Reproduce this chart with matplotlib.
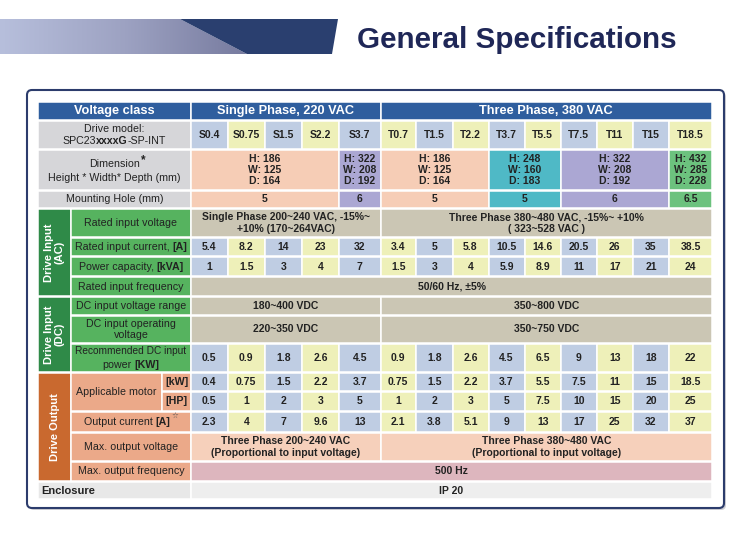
import matplotlib.pyplot as plt
from matplotlib.patches import Rectangle, Polygon, FancyBboxPatch
from matplotlib.colors import LinearSegmentedColormap
import numpy as np

plt.rcParams['font.family'] = ['Liberation Sans', 'DejaVu Sans']

# ---- table data ----
single_models = ['S0.4', 'S0.75', 'S1.5', 'S2.2', 'S3.7']
three_models = ['T0.7', 'T1.5', 'T2.2', 'T3.7', 'T5.5', 'T7.5', 'T11', 'T15', 'T18.5']
models = single_models + three_models

rated_current = ['5.4', '8.2', '14', '23', '32', '3.4', '5', '5.8', '10.5', '14.6', '20.5', '26', '35', '38.5']
power_kva = ['1', '1.5', '3', '4', '7', '1.5', '3', '4', '5.9', '8.9', '11', '17', '21', '24']
dc_power = ['0.5', '0.9', '1.8', '2.6', '4.5', '0.9', '1.8', '2.6', '4.5', '6.5', '9', '13', '18', '22']
motor_kw = ['0.4', '0.75', '1.5', '2.2', '3.7', '0.75', '1.5', '2.2', '3.7', '5.5', '7.5', '11', '15', '18.5']
motor_hp = ['0.5', '1', '2', '3', '5', '1', '2', '3', '5', '7.5', '10', '15', '20', '25']
output_current = ['2.3', '4', '7', '9.6', '13', '2.1', '3.8', '5.1', '9', '13', '17', '25', '32', '37']

# frame sizes: (first col, last col, dimension text, mounting hole, colour)
frames = [
    (0, 3, 'H: 186\nW: 125\nD: 164', '5', '#f6cdb6'),
    (4, 4, 'H: 322\nW: 208\nD: 192', '6', '#aba7d3'),
    (5, 7, 'H: 186\nW: 125\nD: 164', '5', '#f6cdb6'),
    (8, 9, 'H: 248\nW: 160\nD: 183', '5', '#4fb9c6'),
    (10, 12, 'H: 322\nW: 208\nD: 192', '6', '#aba7d3'),
    (13, 13, 'H: 432\nW: 285\nD: 228', '6.5', '#6cc27e'),
]

rated_voltage = ['Single Phase 200~240 VAC, -15%~\n+10% (170~264VAC)',
                 'Three Phase 380~480 VAC, -15%~ +10%\n( 323~528 VAC )']
dc_range = ['180~400 VDC', '350~800 VDC']
dc_operating = ['220~350 VDC', '350~750 VDC']
max_out_voltage = ['Three Phase 200~240 VAC\n(Proportional to input voltage)',
                   'Three Phase 380~480 VAC\n(Proportional to input voltage)']
input_freq = '50/60 Hz, \u00b15%'
max_out_freq = '500 Hz'
enclosure = 'IP 20'

# ---- layout (pixels) ----
col_edges = [191, 227.5, 265, 302, 339, 380.5, 416, 452.5, 488.5, 524.5, 561, 596.5, 633, 669, 712]
rows = {
    'header': (102, 120), 'model': (121, 149), 'dim': (150, 190), 'mount': (191, 208),
    'rv': (209, 237), 'ri': (238, 256), 'pc': (257, 276), 'rf': (277, 296),
    'dcr': (297, 315), 'dco': (316, 343), 'dcp': (344, 372),
    'kw': (373, 391), 'hp': (392, 411), 'oc': (412, 432), 'mv': (433, 461),
    'mf': (462, 481), 'enc': (482, 499),
}
X0, XG, XS, XE = 38, 71, 162, 712
LS, DS = 7.7, 7.5   # label / data font sizes

blue = '#bfcde3'
yellow = '#eef0b9'
gray = '#d6d6d9'
hdr = '#2f5e9e'
ac_dark = '#2f8a48'
ac_lab = '#56b35f'
khaki = '#cbc6b4'
out_dark = '#c9692f'
out_lab = '#eba989'
txt = '#222222'

fig = plt.figure(figsize=(7.5, 5.33), dpi=100)
ax = fig.add_axes([0, 0, 1, 1])
renderer = fig.canvas.get_renderer()


def cell(x0, x1, r, color):
    y0, y1 = rows[r] if isinstance(r, str) else r
    ax.add_patch(Rectangle((x0, y0), x1 - x0, y1 - y0, fc=color, ec='white', lw=1.1, zorder=2))
    return (x0 + x1) / 2, (y0 + y1) / 2


def label(x, y, s, size=LS, weight='normal', color=txt, **kw):
    ax.text(x, y, s, fontsize=size, fontweight=weight, color=color,
            ha=kw.pop('ha', 'center'), va='center', zorder=3, **kw)


def rich(x, y, parts, size=LS, gap=2.3):
    # mixed normal / bold pieces, centred on x
    ts = [ax.text(0, y, s, fontsize=size, fontweight=w, color=txt, ha='left', va='center', zorder=3)
          for s, w in parts]
    ws = [t.get_window_extent(renderer).width for t in ts]
    cur = x - (sum(ws) + gap * (len(ws) - 1)) / 2
    for t, w in zip(ts, ws):
        t.set_x(cur)
        cur += w + gap
    return cur - gap


# ---- title banner ----
light = Polygon([(0, 19), (180, 19), (247, 54), (0, 54)], closed=True, fc='none', ec='none')
ax.add_patch(light)
grad = np.linspace(0, 1, 256).reshape(1, -1)
cm = LinearSegmentedColormap.from_list('bar', ['#b7bfdc', '#9da2c2', '#767a9e'])
im = ax.imshow(grad, cmap=cm, extent=[0, 250, 54, 19], aspect='auto', zorder=1)
im.set_clip_path(light)
ax.add_patch(Polygon([(180, 19), (338, 19), (332, 54), (247, 54)], closed=True,
                     fc='#2a3f6f', ec='none', zorder=1))
ax.text(357, 40, 'General Specifications', fontsize=21.3, fontweight='bold', color='#1f2757',
        ha='left', va='center')
ax.set_xlim(0, 750)
ax.set_ylim(533, 0)
ax.axis('off')

# ---- outer frame ----
ax.add_patch(FancyBboxPatch((29, 92), 697, 418, boxstyle='round,pad=0,rounding_size=5',
                            fc='#cfcfd4', ec='none', zorder=0))
ax.add_patch(FancyBboxPatch((27, 90), 697, 418, boxstyle='round,pad=0,rounding_size=5',
                            fc='white', ec='#2c3c6c', lw=1.5, zorder=1))

# ---- header row ----
x, y = cell(X0, col_edges[0], 'header', hdr)
label(x, y, 'Voltage class', 9.2, 'bold', 'white')
x, y = cell(col_edges[0], col_edges[5], 'header', hdr)
label(x, y, 'Single Phase, 220 VAC', 9.2, 'bold', 'white')
x, y = cell(col_edges[5], XE, 'header', hdr)
label(x, y, 'Three Phase, 380 VAC', 9.2, 'bold', 'white')

# ---- left labels, top part ----
x, y = cell(X0, col_edges[0], 'model', gray)
label(x, y - 6, 'Drive model:')
rich(x, y + 6, [('SPC23', 'normal'), ('xxxxG', 'bold'), ('-SP-INT', 'normal')], gap=0)
x, y = cell(X0, col_edges[0], 'dim', gray)
end = rich(x, y - 6, [('Dimension', 'normal')])
label(end + 3.5, y - 10, '*', 8.5, 'bold')
label(x, y + 8, 'Height * Width* Depth (mm)')
x, y = cell(X0, col_edges[0], 'mount', gray)
label(x, y, 'Mounting Hole (mm)')

# ---- group columns ----
for r0, r1, s, c in [('rv', 'rf', 'Drive Input\n(AC)', ac_dark), ('dcr', 'dcp', 'Drive Input\n(DC)', ac_dark),
                     ('kw', 'mf', 'Drive Output', out_dark)]:
    x, y = cell(X0, XG, (rows[r0][0], rows[r1][1]), c)
    label(x, y, s, 8, 'bold', 'white', rotation=90, linespacing=1.0)

x, y = cell(XG, col_edges[0], 'rv', ac_lab)
label(x, y, 'Rated input voltage')
x, y = cell(XG, col_edges[0], 'ri', ac_lab)
rich(x, y, [('Rated input current,', 'normal'), ('[A]', 'bold')])
x, y = cell(XG, col_edges[0], 'pc', ac_lab)
rich(x, y, [('Power capacity,', 'normal'), ('[kVA]', 'bold')])
x, y = cell(XG, col_edges[0], 'rf', ac_lab)
label(x, y, 'Rated input frequency')
x, y = cell(XG, col_edges[0], 'dcr', ac_lab)
label(x, y, 'DC input voltage range')
x, y = cell(XG, col_edges[0], 'dco', ac_lab)
label(x, y, 'DC input operating\nvoltage', linespacing=1.2)
x, y = cell(XG, col_edges[0], 'dcp', ac_lab)
label(x, y - 6.5, 'Recommended DC input', 7.3)
rich(x, y + 6.5, [('power', 'normal'), ('[KW]', 'bold')])

x, y = cell(XG, XS, (rows['kw'][0], rows['hp'][1]), out_lab)
label(x, y, 'Applicable motor')
x, y = cell(XS, col_edges[0], 'kw', out_lab)
label(x, y, '[kW]', weight='bold')
x, y = cell(XS, col_edges[0], 'hp', out_lab)
label(x, y, '[HP]', weight='bold')
x, y = cell(XG, col_edges[0], 'oc', out_lab)
end = rich(x - 4, y, [('Output current', 'normal'), ('[A]', 'bold')])
label(end + 5, y - 5, '\u2606', 5.5, color='#555555')
x, y = cell(XG, col_edges[0], 'mv', out_lab)
label(x, y, 'Max. output voltage')
x, y = cell(XG, col_edges[0], 'mf', out_lab)
label(x, y, 'Max. output frequency')

x, y = cell(X0, col_edges[0], 'enc', '#e8e8e8')
label(41, y, 'Enclosure', 8, 'bold', ha='left')

# ---- per-model rows ----
for r, vals in [('model', models), ('ri', rated_current), ('pc', power_kva), ('dcp', dc_power),
                ('kw', motor_kw), ('hp', motor_hp), ('oc', output_current)]:
    for i, v in enumerate(vals):
        x, y = cell(col_edges[i], col_edges[i + 1], r, blue if i % 2 == 0 else yellow)
        label(x, y, v, DS, 'bold')

# ---- merged cells ----
for a, b, dim, hole, c in frames:
    x, y = cell(col_edges[a], col_edges[b + 1], 'dim', c)
    label(x, y, dim, DS, 'bold', linespacing=1.1)
    x, y = cell(col_edges[a], col_edges[b + 1], 'mount', c)
    label(x, y, hole, DS, 'bold')

for r, vals, c in [('rv', rated_voltage, khaki), ('dcr', dc_range, khaki),
                   ('dco', dc_operating, khaki), ('mv', max_out_voltage, '#f6d0bb')]:
    for k, v in enumerate(vals):
        a, b = (0, 5) if k == 0 else (5, 14)
        x, y = cell(col_edges[a], col_edges[b], r, c)
        label(x, y, v, DS, 'bold', linespacing=1.2)

for r, v, c in [('rf', input_freq, khaki), ('mf', max_out_freq, '#ddb6be'), ('enc', enclosure, '#eeeeee')]:
    x, y = cell(col_edges[0], XE, r, c)
    label(x, y, v, DS, 'bold')

fig.savefig('out.png', dpi=100)
